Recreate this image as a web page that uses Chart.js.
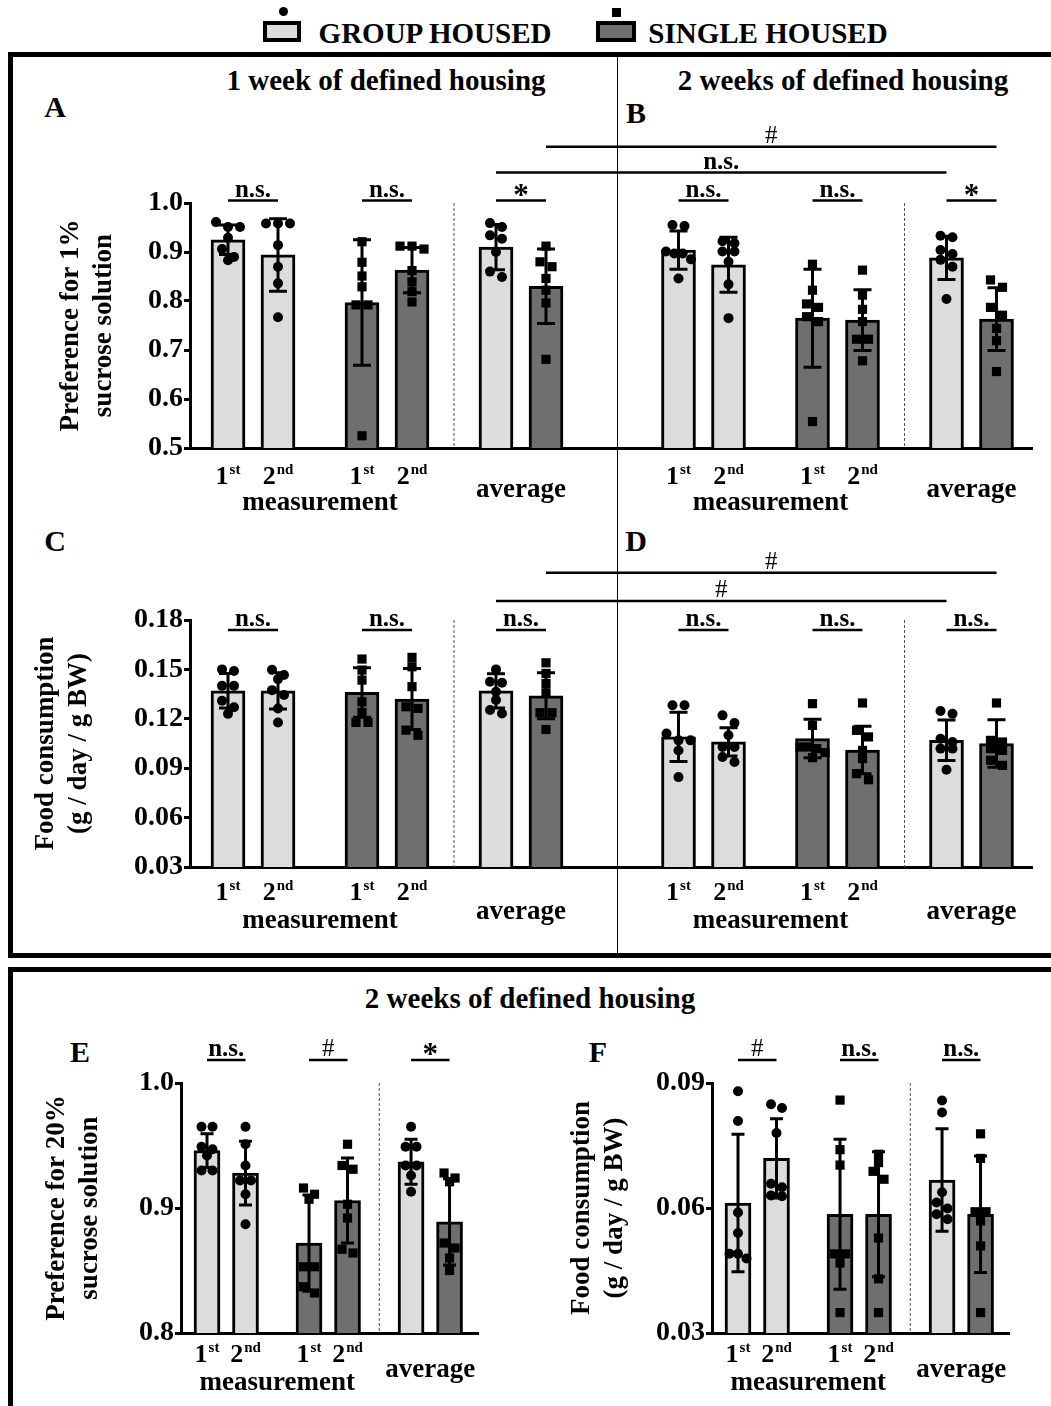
<!DOCTYPE html>
<html>
<head>
<meta charset="utf-8">
<title>Sucrose preference and food consumption</title>
<script src="https://cdn.jsdelivr.net/npm/chart.js@4.4.1/dist/chart.umd.min.js"></script>
<style>
  body { margin: 0; background: #fff; }
  #page { position: relative; width: 1051px; height: 1406px; overflow: hidden;
          font-family: "Liberation Serif", "Times New Roman", serif; font-weight: bold; color: #000; }
  .t { position: absolute; white-space: nowrap; transform: translate(-50%, -50%); line-height: 1; }
  .frame { position: absolute; border: 5px solid #000; }
  canvas { position: absolute; }
</style>
</head>
<body>
<div id="page">
  <!-- legend -->
  <div style="position:absolute;left:263px;top:21px;width:30px;height:13px;border:4px solid #000;background:#dcdcdc"></div>
  <div style="position:absolute;left:279px;top:7px;width:9px;height:9px;border-radius:50%;background:#000"></div>
  <div class="t" style="left:435px;top:33px;font-size:29px">GROUP HOUSED</div>
  <div style="position:absolute;left:596px;top:21px;width:32px;height:13px;border:4px solid #000;background:#6f6f6f"></div>
  <div style="position:absolute;left:612px;top:8px;width:9px;height:9px;background:#000"></div>
  <div class="t" style="left:768px;top:33px;font-size:29px">SINGLE HOUSED</div>

  <!-- frames -->
  <div class="frame" style="left:8px;top:52px;width:1060px;height:896px"></div>
  <div style="position:absolute;left:617px;top:57px;width:1px;height:896px;background:#000"></div>
  <div class="frame" style="left:8px;top:967px;width:1060px;height:500px"></div>

  <div class="t" style="left:386px;top:80px;font-size:29px">1 week of defined housing</div>
  <div class="t" style="left:843px;top:80px;font-size:29px">2 weeks of defined housing</div>
  <div class="t" style="left:530px;top:998px;font-size:29px">2 weeks of defined housing</div>

  <div class="t" style="left:55px;top:107px;font-size:30px">A</div>
  <div class="t" style="left:636px;top:113px;font-size:30px">B</div>
  <div class="t" style="left:55px;top:541px;font-size:30px">C</div>
  <div class="t" style="left:636px;top:541px;font-size:30px">D</div>
  <div class="t" style="left:80px;top:1052px;font-size:30px">E</div>
  <div class="t" style="left:598px;top:1052px;font-size:30px">F</div>

  <canvas id="cAB" width="1051" height="410" style="left:0;top:120px"></canvas>
  <canvas id="cCD" width="1051" height="400" style="left:0;top:540px"></canvas>
  <canvas id="cE" width="520" height="406" style="left:0;top:1000px"></canvas>
  <canvas id="cF" width="531" height="406" style="left:520px;top:1000px"></canvas>
</div>

<script>
// bars in every panel: 1st / 2nd measurement (group, single), then the averages
const ordinals = ['1st', '2nd'];
const groupTitles = ['measurement', 'average'];
const housing = ['group', 'group', 'single', 'single', 'group', 'single'];

// A - 1 week, preference for 1% sucrose
const meanA = [0.925, 0.894, 0.797, 0.863, 0.910, 0.830];
const sdA = [0.030, 0.074, 0.128, 0.046, 0.046, 0.076];
const ptsA = [
  [0.961, 0.951, 0.951, 0.929, 0.906, 0.890, 0.883],
  [0.958, 0.958, 0.958, 0.914, 0.870, 0.836, 0.767],
  [0.921, 0.879, 0.851, 0.829, 0.792, 0.792, 0.525],
  [0.912, 0.912, 0.906, 0.862, 0.839, 0.819, 0.798],
  [0.959, 0.951, 0.934, 0.927, 0.900, 0.860, 0.849],
  [0.912, 0.880, 0.870, 0.846, 0.822, 0.796, 0.681]
];
const sigA = ['n.s.', 'n.s.', '*'];

// B - 2 weeks, preference for 1% sucrose
const meanB = [0.904, 0.874, 0.765, 0.761, 0.888, 0.763];
const sdB = [0.039, 0.056, 0.100, 0.062, 0.044, 0.064];
const ptsB = [
  [0.955, 0.953, 0.901, 0.897, 0.897, 0.885, 0.846],
  [0.922, 0.918, 0.901, 0.901, 0.880, 0.834, 0.765],
  [0.875, 0.822, 0.794, 0.787, 0.768, 0.758, 0.554],
  [0.863, 0.812, 0.783, 0.758, 0.722, 0.722, 0.678],
  [0.933, 0.930, 0.904, 0.896, 0.884, 0.870, 0.804],
  [0.843, 0.828, 0.787, 0.771, 0.744, 0.719, 0.656]
];
const sigB = ['n.s.', 'n.s.', '*'];
const crossAB = ['n.s.', '#'];   // average group A vs B, average single A vs B

// C - 1 week, food consumption
const meanC = [0.137, 0.137, 0.136, 0.132, 0.137, 0.134];
const sdC = [0.0105, 0.011, 0.015, 0.0185, 0.0104, 0.0139];
const ptsC = [
  [0.150, 0.149, 0.140, 0.140, 0.131, 0.127, 0.123],
  [0.1498, 0.1466, 0.1441, 0.1374, 0.1344, 0.1263, 0.1178],
  [0.1563, 0.1496, 0.1435, 0.1303, 0.1239, 0.1178, 0.1178],
  [0.1573, 0.1516, 0.1395, 0.1273, 0.1263, 0.1131, 0.110],
  [0.150, 0.1425, 0.1419, 0.1364, 0.1314, 0.1253, 0.1232],
  [0.154, 0.1476, 0.1415, 0.1358, 0.1237, 0.1237, 0.1135]
];
const sigC = ['n.s.', 'n.s.', 'n.s.'];

// D - 2 weeks, food consumption
const meanD = [0.109, 0.106, 0.108, 0.101, 0.107, 0.105];
const sdD = [0.015, 0.0086, 0.0117, 0.0144, 0.0123, 0.0144];
const ptsD = [
  [0.1282, 0.1282, 0.111, 0.1069, 0.1069, 0.1008, 0.0846],
  [0.1221, 0.1174, 0.110, 0.1029, 0.1029, 0.0968, 0.0938],
  [0.1292, 0.116, 0.1029, 0.1029, 0.1019, 0.0995, 0.0964],
  [0.1296, 0.113, 0.109, 0.1008, 0.0958, 0.0867, 0.083],
  [0.1247, 0.1231, 0.1079, 0.1059, 0.1019, 0.1019, 0.0891],
  [0.1296, 0.1069, 0.1059, 0.1019, 0.1008, 0.0948, 0.0917]
];
const sigD = ['n.s.', 'n.s.', 'n.s.'];
const crossCD = ['#', '#'];

// E - 2 weeks, preference for 20% sucrose
const meanE = [0.946, 0.928, 0.872, 0.906, 0.937, 0.889];
const sdE = [0.0135, 0.0255, 0.0385, 0.034, 0.018, 0.0345];
const ptsE = [
  [0.965, 0.965, 0.949, 0.947, 0.942, 0.930, 0.930],
  [0.965, 0.951, 0.934, 0.922, 0.922, 0.911, 0.887],
  [0.916, 0.911, 0.907, 0.853, 0.853, 0.837, 0.832],
  [0.951, 0.934, 0.931, 0.903, 0.892, 0.867, 0.864],
  [0.965, 0.949, 0.949, 0.934, 0.934, 0.926, 0.913],
  [0.928, 0.924, 0.921, 0.872, 0.868, 0.860, 0.850]
];
const sigE = ['n.s.', '#', '*'];

// F - 2 weeks, food consumption
const meanF = [0.0612, 0.0719, 0.0585, 0.0585, 0.0667, 0.0585];
const sdF = [0.0165, 0.0095, 0.018, 0.015, 0.0123, 0.014];
const ptsF = [
  [0.088, 0.0809, 0.0589, 0.054, 0.049, 0.049, 0.0479],
  [0.0849, 0.084, 0.078, 0.0658, 0.065, 0.063, 0.0628],
  [0.0859, 0.074, 0.0703, 0.049, 0.049, 0.0468, 0.0349],
  [0.0729, 0.0709, 0.0688, 0.0669, 0.0528, 0.043, 0.0349],
  [0.0858, 0.0829, 0.0638, 0.0613, 0.0599, 0.0585, 0.0573],
  [0.0778, 0.0719, 0.0591, 0.0591, 0.0569, 0.0509, 0.0349]
];
const sigF = ['#', 'n.s.', 'n.s.'];

const FONT = '"Liberation Serif", "Times New Roman", serif';
const GH_FILL = '#dcdcdc';
const SH_FILL = '#6f6f6f';

// side by side placement of points with nearly equal values (like a column scatter)
function spreadPx(vals, thr, stepPx, widthPx) {
  const order = vals.map((v, i) => i).sort((a, b) => vals[b] - vals[a]);
  const out = new Array(vals.length).fill(0);
  let row = [];
  const flush = () => {
    const k = row.length;
    const step = k > 1 ? Math.min(stepPx, widthPx / (k - 1)) : 0;
    row.forEach((idx, j) => { out[idx] = (j - (k - 1) / 2) * step; });
    row = [];
  };
  order.forEach(idx => {
    if (row.length && vals[row[0]] - vals[idx] > thr) flush();
    row.push(idx);
  });
  flush();
  return out;
}

function sigText(ctx, text, x, lineY) {
  ctx.textAlign = 'center';
  ctx.textBaseline = 'alphabetic';
  if (text === '*') {
    ctx.font = 'bold 31px ' + FONT;
    ctx.fillText(text, x, lineY + 4);
  } else if (text === '#') {
    ctx.font = '25px ' + FONT;
    ctx.fillText(text, x, lineY - 4);
  } else {
    ctx.font = 'bold 25px ' + FONT;
    ctx.fillText(text, x, lineY - 4);
  }
}

function ordinal(ctx, s, x, y) {
  const m = s.match(/^(\d+)(.*)$/);
  ctx.font = 'bold 26px ' + FONT;
  const w1 = ctx.measureText(m[1]).width;
  ctx.font = 'bold 15px ' + FONT;
  const w2 = ctx.measureText(m[2]).width;
  const x0 = x - (w1 + w2 + 1) / 2;
  ctx.textAlign = 'left';
  ctx.textBaseline = 'middle';
  ctx.font = 'bold 26px ' + FONT;
  ctx.fillText(m[1], x0, y);
  ctx.font = 'bold 15px ' + FONT;
  ctx.fillText(m[2], x0 + w1 + 1, y - 7);
}

function makeChart(cfg) {
  const pos = (pi, i) => pi * cfg.panelStep + Math.floor(i / 2) * cfg.groupStep + (i % 2);
  const bars = [], colors = [], sds = [], ghPts = [], shPts = [];
  const thr = (cfg.yMax - cfg.yMin) * 0.033;
  cfg.panels.forEach((p, pi) => {
    p.mean.forEach((m, i) => {
      const x = pos(pi, i);
      bars.push({ x: x, y: m });
      sds.push(p.sd[i]);
      colors.push(housing[i] === 'group' ? GH_FILL : SH_FILL);
      const offs = spreadPx(p.pts[i], thr, cfg.jitterPx, cfg.barPx - 9);
      p.pts[i].forEach((v, k) => {
        (housing[i] === 'group' ? ghPts : shPts).push({ x: x + offs[k] / cfg.unitPx, y: v });
      });
    });
  });
  const xMin = -cfg.firstPx / cfg.unitPx;
  const xMax = xMin + (cfg.right - cfg.left) / cfg.unitPx;

  const decor = {
    id: 'decor',
    beforeDatasetsDraw(chart) {
      const { ctx, chartArea, scales: { x } } = chart;
      ctx.save();
      ctx.strokeStyle = '#555';
      ctx.lineWidth = 1;
      ctx.setLineDash([3, 2]);
      cfg.panels.forEach((p, pi) => {
        const sx = (x.getPixelForValue(pos(pi, 3)) + x.getPixelForValue(pos(pi, 4))) / 2;
        ctx.beginPath();
        ctx.moveTo(sx, chartArea.top);
        ctx.lineTo(sx, chartArea.bottom);
        ctx.stroke();
      });
      ctx.restore();
    },
    afterDatasetDraw(chart, args) {
      if (args.index !== 0) return;
      const { ctx, scales: { x, y } } = chart;
      ctx.save();
      ctx.strokeStyle = '#000';
      ctx.lineWidth = 3;
      bars.forEach((b, i) => {
        const px = x.getPixelForValue(b.x);
        const top = y.getPixelForValue(b.y + sds[i]);
        const bot = y.getPixelForValue(b.y - sds[i]);
        const c = cfg.capPx / 2;
        ctx.beginPath();
        ctx.moveTo(px, top); ctx.lineTo(px, bot);
        ctx.moveTo(px - c, top); ctx.lineTo(px + c, top);
        ctx.moveTo(px - c, bot); ctx.lineTo(px + c, bot);
        ctx.stroke();
      });
      ctx.restore();
    },
    afterDraw(chart) {
      const { ctx, chartArea, scales: { x, y } } = chart;
      ctx.save();
      ctx.fillStyle = '#000';
      ctx.strokeStyle = '#000';
      ctx.lineWidth = 2.5;
      const line = (xa, xb, yv, text) => {
        const py = y.getPixelForValue(yv);
        ctx.beginPath();
        ctx.moveTo(xa, py); ctx.lineTo(xb, py);
        ctx.stroke();
        sigText(ctx, text, (xa + xb) / 2, py);
      };
      cfg.panels.forEach((p, pi) => {
        p.sig.forEach((s, g) => {
          line(x.getPixelForValue(pos(pi, 2 * g)), x.getPixelForValue(pos(pi, 2 * g + 1)), cfg.sigY, s);
        });
        const base = chartArea.bottom;
        for (let g = 0; g < 2; g++) {
          for (let m = 0; m < 2; m++) ordinal(ctx, ordinals[m], x.getPixelForValue(pos(pi, 2 * g + m)), base + cfg.lab[0]);
        }
        ctx.font = 'bold 27px ' + FONT;
        ctx.textAlign = 'center';
        ctx.textBaseline = 'middle';
        const mx = (x.getPixelForValue(pos(pi, 0)) + x.getPixelForValue(pos(pi, 3))) / 2;
        ctx.fillText(groupTitles[0], mx, base + cfg.lab[1]);
        const ax = (x.getPixelForValue(pos(pi, 4)) + x.getPixelForValue(pos(pi, 5))) / 2;
        ctx.fillText(groupTitles[1], ax, base + cfg.lab[2]);
      });
      (cfg.cross || []).forEach((text, k) => {
        const bar = 4 + k;
        line(x.getPixelForValue(pos(0, bar)), x.getPixelForValue(pos(1, bar)), cfg.crossY[k], text);
      });
      ctx.restore();
    }
  };

  return new Chart(document.getElementById(cfg.id), {
    type: 'bar',
    data: {
      datasets: [
        { type: 'bar', data: bars, backgroundColor: colors, borderColor: '#000', borderWidth: 3,
          barThickness: cfg.barPx, order: 2 },
        { type: 'scatter', data: ghPts, pointStyle: 'circle', radius: 5, backgroundColor: '#000',
          borderWidth: 0, order: 1 },
        { type: 'scatter', data: shPts, pointStyle: 'rect', radius: 6.5, backgroundColor: '#000',
          borderWidth: 0, order: 1 }
      ]
    },
    options: {
      responsive: false,
      animation: false,
      layout: { padding: { top: cfg.top, right: cfg.w - cfg.right, left: 0, bottom: 0 } },
      plugins: { legend: { display: false }, tooltip: { enabled: false } },
      scales: {
        x: {
          type: 'linear', min: xMin, max: xMax, offset: false,
          grid: { display: false, offset: false },
          ticks: { display: false },
          border: { display: true, width: 3, color: '#000' },
          afterFit: s => { s.height = cfg.h - cfg.bottom; }
        },
        y: {
          min: cfg.yMin, max: cfg.yMax,
          ticks: { stepSize: cfg.step, callback: v => v.toFixed(cfg.dec), color: '#000', padding: 1,
                   font: { family: FONT, size: 28, weight: 'bold' } },
          grid: { display: true, drawOnChartArea: false, drawTicks: true, tickLength: 6, tickWidth: 3,
                  tickColor: '#000' },
          border: { display: true, width: 3, color: '#000' },
          title: { display: true, text: cfg.title, color: '#000', padding: { top: cfg.titlePad, bottom: 0 },
                   font: { family: FONT, size: 27, weight: 'bold', lineHeight: 1.22 } },
          afterFit: s => { s.width = cfg.left; }
        }
      }
    },
    plugins: [decor]
  });
}

makeChart({
  id: 'cAB', w: 1051, h: 410, left: 190, right: 1032, top: 83, bottom: 328,
  unitPx: 50, firstPx: 38, groupStep: 2.68, panelStep: 9.01, barPx: 34, capPx: 18, jitterPx: 12,
  yMin: 0.5, yMax: 1.0, step: 0.1, dec: 1,
  title: ['Preference for 1%', 'sucrose solution'], titlePad: 55,
  sigY: 1.005, cross: crossAB, crossY: [1.062, 1.115], lab: [29, 55, 42],
  panels: [
    { mean: meanA, sd: sdA, pts: ptsA, sig: sigA },
    { mean: meanB, sd: sdB, pts: ptsB, sig: sigB }
  ]
});

makeChart({
  id: 'cCD', w: 1051, h: 400, left: 190, right: 1032, top: 80, bottom: 327,
  unitPx: 50, firstPx: 38, groupStep: 2.68, panelStep: 9.01, barPx: 34, capPx: 18, jitterPx: 12,
  yMin: 0.03, yMax: 0.18, step: 0.03, dec: 2,
  title: ['Food consumption', '(g / day / g BW)'], titlePad: 30,
  sigY: 0.174, cross: crossCD, crossY: [0.1915, 0.2087], lab: [26, 54, 45],
  panels: [
    { mean: meanC, sd: sdC, pts: ptsC, sig: sigC },
    { mean: meanD, sd: sdD, pts: ptsD, sig: sigD }
  ]
});

makeChart({
  id: 'cE', w: 520, h: 406, left: 181, right: 478, top: 83, bottom: 333,
  unitPx: 38.5, firstPx: 26, groupStep: 2.65, panelStep: 0, barPx: 26, capPx: 13, jitterPx: 11,
  yMin: 0.8, yMax: 1.0, step: 0.1, dec: 1,
  title: ['Preference for 20%', 'sucrose solution'], titlePad: 41,
  sigY: 1.0185, lab: [22, 50, 37],
  panels: [{ mean: meanE, sd: sdE, pts: ptsE, sig: sigE }]
});

makeChart({
  id: 'cF', w: 531, h: 406, left: 192, right: 489, top: 83, bottom: 333,
  unitPx: 38.5, firstPx: 26, groupStep: 2.65, panelStep: 0, barPx: 26, capPx: 13, jitterPx: 11,
  yMin: 0.03, yMax: 0.09, step: 0.03, dec: 2,
  title: ['Food consumption', '(g / day / g BW)'], titlePad: 46,
  sigY: 0.0955, lab: [22, 50, 37],
  panels: [{ mean: meanF, sd: sdF, pts: ptsF, sig: sigF }]
});
</script>
</body>
</html>
